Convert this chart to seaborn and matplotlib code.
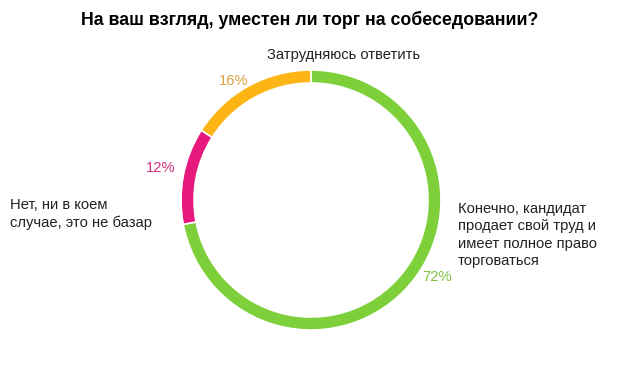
import matplotlib
matplotlib.use("Agg")
import matplotlib.pyplot as plt
import seaborn as sns

# data
categories = ["Конечно, кандидат\nпродает свой труд и\nимеет полное право\nторговаться",
              "Нет, ни в коем\nслучае, это не базар",
              "Затрудняюсь ответить"]
shares = [72, 12, 16]
colors = ["#7ED03B", "#E5197E", "#FDB515"]
pct_colors = ["#7CC443", "#D1337F", "#D8A341"]

sns.set_theme(style="white")
plt.rcParams["font.family"] = ["Liberation Sans", "DejaVu Sans"]

W, H = 620, 368
fig = plt.figure(figsize=(6.2, 3.68), dpi=100)
ax = fig.add_axes([0, 0, 1, 1])

cx, cy, r = 311, H - 200, 130
ax.pie(shares, colors=colors, startangle=90, counterclock=False,
       center=(cx, cy), radius=r, frame=True,
       wedgeprops=dict(width=13, edgecolor="white", linewidth=1.2))
ax.set_xlim(0, W)
ax.set_ylim(0, H)
ax.set_aspect("equal")
ax.axis("off")

fig.text(0.5, 1 - 20 / H, "На ваш взгляд, уместен ли торг на собеседовании?",
         ha="center", va="center", fontsize=12.8, fontweight="bold", color="#000000")

# category labels
fs = 10.6
ax.text(458, H - 235, categories[0], ha="left", va="center", fontsize=fs,
        color="#222222", linespacing=1.3)
ax.text(10, H - 214, categories[1], ha="left", va="center", fontsize=fs,
        color="#222222", linespacing=1.3)
ax.text(344, H - 55, categories[2], ha="center", va="center", fontsize=fs,
        color="#222222")

# percentage labels
pct_pos = [(437, H - 277), (161, H - 168), (234, H - 81)]
for val, (px, py), c in zip(shares, pct_pos, pct_colors):
    ax.text(px, py, f"{val}%", ha="center", va="center", fontsize=fs, color=c)

fig.savefig("out.png", dpi=100, facecolor="white")
